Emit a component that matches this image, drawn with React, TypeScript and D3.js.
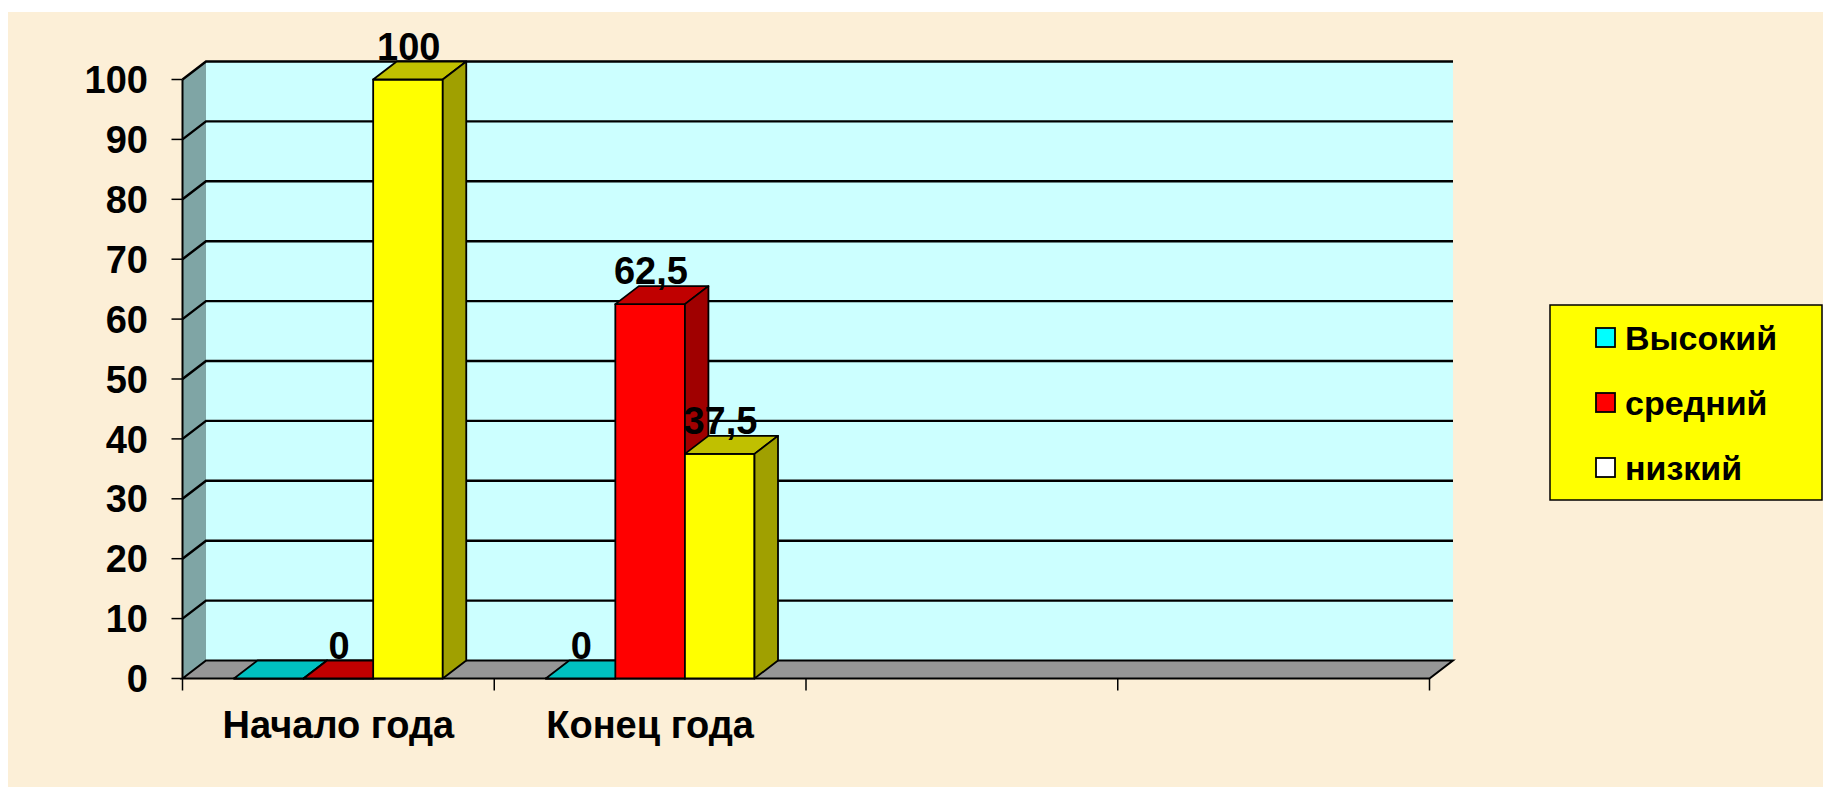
import { useRef, useEffect } from "react";
import * as d3 from "d3";

// chart data
const categories = ["Начало года", "Конец года"];
const slotCount = 4; // the axis has 4 category slots, only two are used
const seriesNames = ["Высокий", "средний", "низкий"];
const highValues = [0, 0];
const midValues = [0, 62.5];
const lowValues = [100, 37.5];
const highLabels = ["", "0"];
const midLabels = ["0", "62,5"];
const lowLabels = ["100", "37,5"];
const yTicks = [0, 10, 20, 30, 40, 50, 60, 70, 80, 90, 100];

// face colours per series: front, top, side
const faceColors = [
  ["#00FFFF", "#00C0C0", "#00A0A0"],
  ["#FF0000", "#C00000", "#A00000"],
  ["#FFFF00", "#C0C000", "#A0A000"],
];

const FONT = "'Liberation Sans', Arial, sans-serif";

export default function App() {
  const svgRef = useRef<SVGSVGElement>(null);

  useEffect(() => {
    const W = 1823;
    const H = 787;
    const dx = 23.5; // depth offset of the 3d walls
    const dy = -18;
    const x0 = 182.5;
    const x1 = 1429.5;

    const svg = d3.select(svgRef.current).attr("width", W).attr("height", H);
    svg.selectAll("*").remove();

    svg.append("rect").attr("width", W).attr("height", H).attr("fill", "#ffffff");
    svg.append("rect").attr("x", 8).attr("y", 12).attr("width", W - 8).attr("height", H - 12).attr("fill", "#FCEFD7");

    const x = d3.scaleBand<number>().domain(d3.range(slotCount)).range([x0, x1]);
    const y = d3.scaleLinear().domain([0, 100]).range([678.5, 79.5]);
    const xs = d3.scaleBand().domain(seriesNames).range([0, x.bandwidth()]).paddingOuter(0.74);

    const poly = (pts: number[][]) => "M" + pts.map((p) => p.join(",")).join("L") + "Z";

    // left wall
    svg.append("path")
      .attr("d", poly([[x0, y(100)], [x0 + dx, y(100) + dy], [x0 + dx, y(0) + dy], [x0, y(0)]]))
      .attr("fill", "#7FA5A5");
    // back wall
    svg.append("rect")
      .attr("x", x0 + dx).attr("y", y(100) + dy)
      .attr("width", x1 - x0).attr("height", y(0) - y(100))
      .attr("fill", "#CCFFFF");

    // gridlines across the side wall and back wall
    svg.append("g").selectAll("path").data(yTicks.filter((t) => t > 0)).join("path")
      .attr("d", (t) => `M${x0},${y(t)}L${x0 + dx},${y(t) + dy}L${x1 + dx},${y(t) + dy}`)
      .attr("fill", "none").attr("stroke", "#000").attr("stroke-width", 2.4);

    // floor
    svg.append("path")
      .attr("d", poly([[x0, y(0)], [x0 + dx, y(0) + dy], [x1 + dx, y(0) + dy], [x1, y(0)]]))
      .attr("fill", "#969696").attr("stroke", "#000").attr("stroke-width", 2);

    // front edge of the value axis
    svg.append("line")
      .attr("x1", x0).attr("x2", x0).attr("y1", y(100)).attr("y2", y(0))
      .attr("stroke", "#000").attr("stroke-width", 2);

    // y ticks and labels
    const yAxis = svg.append("g");
    yAxis.selectAll("line").data(yTicks).join("line")
      .attr("x1", x0 - 11).attr("x2", x0).attr("y1", (t) => y(t)).attr("y2", (t) => y(t))
      .attr("stroke", "#000").attr("stroke-width", 1.5);
    yAxis.selectAll("text").data(yTicks).join("text")
      .attr("x", 148).attr("y", (t) => y(t)).attr("dy", "0.36em")
      .attr("text-anchor", "end")
      .style("font-family", FONT).style("font-weight", "bold").style("font-size", "38px")
      .text((t) => t);

    // x ticks at category boundaries
    svg.append("g").selectAll("line").data(d3.range(slotCount + 1)).join("line")
      .attr("x1", (i) => x0 + i * x.step()).attr("x2", (i) => x0 + i * x.step())
      .attr("y1", y(0)).attr("y2", y(0) + 12)
      .attr("stroke", "#000").attr("stroke-width", 1.5);

    svg.append("g").selectAll("text").data(categories).join("text")
      .attr("x", (d, i) => (x(i) as number) + x.bandwidth() / 2)
      .attr("y", 738)
      .attr("text-anchor", "middle")
      .style("font-family", FONT).style("font-weight", "bold").style("font-size", "38px")
      .text((d) => d);

    // bars, drawn left to right so each hides the previous one's side
    const seriesValues = [highValues, midValues, lowValues];
    const seriesLabels = [highLabels, midLabels, lowLabels];
    const bars = svg.append("g");
    const labels = svg.append("g");
    categories.forEach((c, ci) => {
      seriesNames.forEach((s, si) => {
        const v = seriesValues[si][ci];
        const bx = (x(ci) as number) + (xs(s) as number);
        const w = xs.bandwidth();
        const yt = y(v);
        const yb = y(0);
        const [front, top, side] = faceColors[si];
        const g = bars.append("g").attr("stroke", "#000").attr("stroke-width", 1.8).attr("stroke-linejoin", "round");
        g.append("path").attr("d", poly([[bx, yt], [bx + w, yt], [bx + w, yb], [bx, yb]])).attr("fill", front);
        g.append("path").attr("d", poly([[bx, yt], [bx + dx, yt + dy], [bx + w + dx, yt + dy], [bx + w, yt]])).attr("fill", top);
        g.append("path").attr("d", poly([[bx + w, yt], [bx + w + dx, yt + dy], [bx + w + dx, yb + dy], [bx + w, yb]])).attr("fill", side);

        const lbl = seriesLabels[si][ci];
        if (lbl) {
          labels.append("text")
            .attr("x", bx + w / 2 + dx / 2 - 11)
            .attr("y", yt + dy - 2)
            .attr("text-anchor", "middle")
            .style("font-family", FONT).style("font-weight", "bold").style("font-size", "38px")
            .text(lbl);
        }
      });
    });

    // legend
    const legend = svg.append("g");
    legend.append("rect")
      .attr("x", 1550).attr("y", 305).attr("width", 272).attr("height", 195)
      .attr("fill", "#FFFF00").attr("stroke", "#000").attr("stroke-width", 1.5);
    const items = legend.selectAll("g").data(seriesNames).join("g")
      .attr("transform", (d, i) => `translate(1596, ${350 + i * 65})`);
    items.append("rect")
      .attr("x", 0).attr("y", -22).attr("width", 19).attr("height", 19)
      .attr("fill", (d, i) => (i === 2 ? "#FFFFFF" : faceColors[i][0]))
      .attr("stroke", "#000").attr("stroke-width", 1.8);
    items.append("text")
      .attr("x", 29).attr("y", 0)
      .style("font-family", FONT).style("font-weight", "bold").style("font-size", "34px")
      .text((d) => d);
  }, []);

  return (
    <div style={{ position: "absolute", left: 0, top: 0 }}>
      <svg ref={svgRef} style={{ display: "block" }}></svg>
    </div>
  );
}
